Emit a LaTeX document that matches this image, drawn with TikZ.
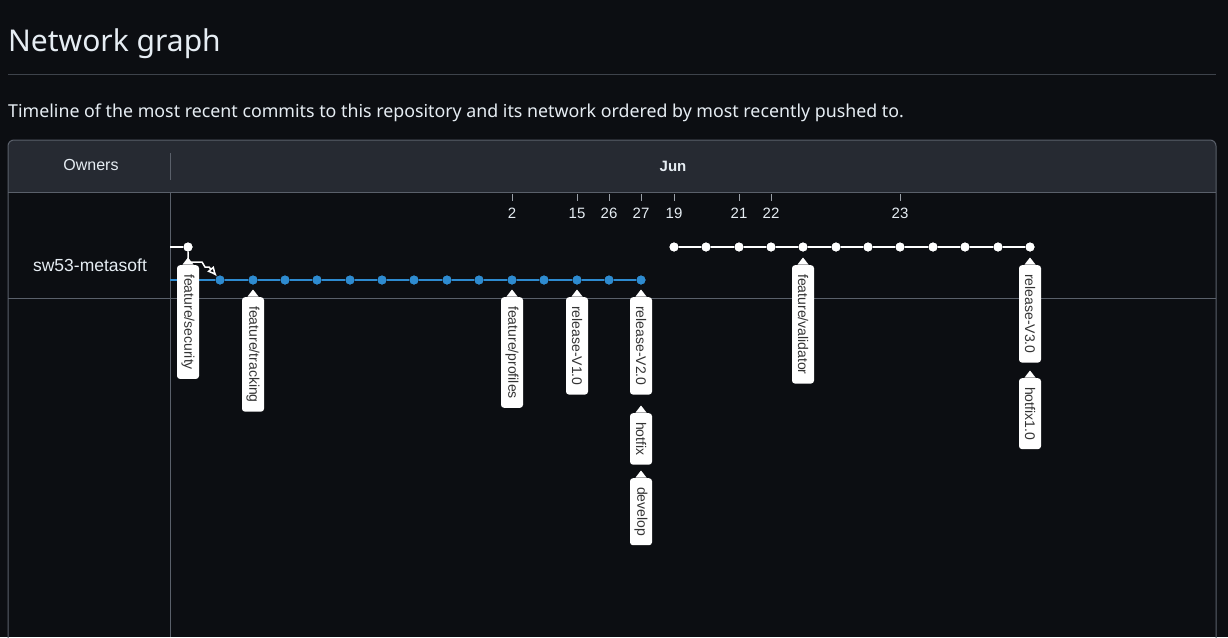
\documentclass[tikz,border=0pt]{standalone}
\usepackage{fontspec}
\setmainfont{Noto Sans}
\newfontfamily\lblfont{Liberation Sans}
\usetikzlibrary{arrows.meta}
\definecolor{bg}{HTML}{0C0E12}
\definecolor{hdr}{HTML}{262A32}
\definecolor{bord}{HTML}{5A606A}
\definecolor{rule}{HTML}{3E434B}
\definecolor{blu}{HTML}{2E8BD0}
\definecolor{lbltext}{HTML}{333333}
\definecolor{txt}{HTML}{E6EDF3}
\definecolor{tickc}{HTML}{9AA0A8}
\newcommand\tagfor[4]{%
  \node[tagbox] (#1) at (#2,#3) {#4};
  \fill[white] ([xshift=-5.5pt,yshift=0.5pt]#1.west) -- ([yshift=7.5pt]#1.west) -- ([xshift=5.5pt,yshift=0.5pt]#1.west) -- cycle;}
\begin{document}
\begin{tikzpicture}[x=1pt,y=-1pt,
  bdot/.style={circle,fill=blu,inner sep=0pt,minimum size=9pt},
  wdot/.style={circle,fill=white,inner sep=0pt,minimum size=9pt},
  bline/.style={draw=blu,line width=2.2pt},
  wline/.style={draw=white,line width=2.2pt},
  tagbox/.style={fill=white,rounded corners=3pt,rotate=-90,anchor=west,inner xsep=9pt,inner ysep=0pt,minimum height=22pt,text=lbltext,font=\lblfont\fontsize{14}{14}\selectfont},
  datelbl/.style={text=txt,font=\lblfont\fontsize{15}{15}\selectfont},
  tick/.style={draw=tickc,line width=0.8pt},
  grid/.style={draw=bord,line width=1pt}]
\useasboundingbox (0,0) rectangle (1228,637);
\clip (0,0) rectangle (1228,637);
\fill[bg] (0,0) rectangle (1228,637);
% title
\node[anchor=west,text=txt,font=\fontsize{30}{34}\selectfont,inner sep=0pt] (title) at (8,44) {Network graph};
\draw[rule,line width=1pt] (8,74) -- (1216,74);
\node[anchor=west,text=txt,font=\fontsize{17.8}{20}\selectfont,inner sep=0pt] (sub) at (8,113) {Timeline of the most recent commits to this repository and its network ordered by most recently pushed to.};
% panel
\begin{scope}
  \clip[rounded corners=6pt] (8,140) rectangle (1216,700);
  \fill[hdr] (8,140) rectangle (1216,192);
\end{scope}
\draw[grid,rounded corners=6pt] (8,140) rectangle (1216,700);
\draw[grid] (8,192) -- (1216,192);
\draw[grid] (170,153) -- (170,180);
\draw[grid] (170,192) -- (170,637);
\draw[grid] (8,298) -- (1216,298);
\node[text=txt,font=\lblfont\fontsize{16}{16}\selectfont] (owners) at (91,165) {Owners};
\node[text=txt,font=\lblfont\bfseries\fontsize{15}{15}\selectfont] (jun) at (673,166) {Jun};
\node[text=txt,font=\lblfont\fontsize{17.5}{17.5}\selectfont] (owner) at (90,265) {sw53-metasoft};
% date ticks
\foreach \x/\d in {512/2,577/15,609/26,641/27,674/19,739/21,771/22,900/23}{
  \draw[tick] (\x,194) -- (\x,201);
  \node[datelbl] (d\d) at (\x,213) {\d};
}
% connector ends
\coordinate (bstart) at (170,280);
\coordinate (wstart) at (170,247);
% blue branch
\foreach \i/\x in {1/220,2/253,3/285,4/317,5/350,6/382,7/414,8/447,9/479,10/512,11/544,12/577,13/609,14/641}{
  \node[bdot] (b\i) at (\x,280) {};
}
\draw[bline] (bstart) -- (b1);
\foreach \i [evaluate=\i as \j using int(\i+1)] in {1,...,13}{
  \draw[bline] (b\i) -- (b\j);
}
% white branch
\node[wdot] (sec) at (188,247) {};
\draw[wline] (wstart) -- (sec);
\foreach \i/\x in {1/674,2/706,3/739,4/771,5/803,6/836,7/868,8/900,9/933,10/965,11/998,12/1030}{
  \node[wdot] (w\i) at (\x,247) {};
}
\foreach \i [evaluate=\i as \j using int(\i+1)] in {1,...,11}{
  \draw[wline] (w\i) -- (w\j);
}
\draw[white,line width=1.5pt,-{Latex[open,length=10pt,width=9pt]}] (sec) -- (188,262) -- (202,262) -- (205,267) -- (209,267) -- (b1);
% redraw dots over lines
\foreach \x in {220,253,285,317,350,382,414,447,479,512,544,577,609,641}{
  \fill[blu] (\x,280) circle (4.5pt);
}
\foreach \x in {188,674,706,739,771,803,836,868,900,933,965,998,1030}{
  \fill[white] (\x,247) circle (4.5pt);
}
% labels
\tagfor{tsec}{188}{265}{feature/security}
\tagfor{ttrk}{253}{297}{feature/tracking}
\tagfor{tprof}{512}{297}{feature/profiles}
\tagfor{trv1}{577}{297}{release-V1.0}
\tagfor{trv2}{641}{297}{release-V2.0}
\tagfor{thot}{641}{413}{hotfix}
\tagfor{tdev}{641}{478}{develop}
\tagfor{tval}{803}{265}{feature/validator}
\tagfor{trv3}{1030}{265}{release-V3.0}
\tagfor{thot1}{1030}{378}{hotfix1.0}
\end{tikzpicture}
\end{document}
